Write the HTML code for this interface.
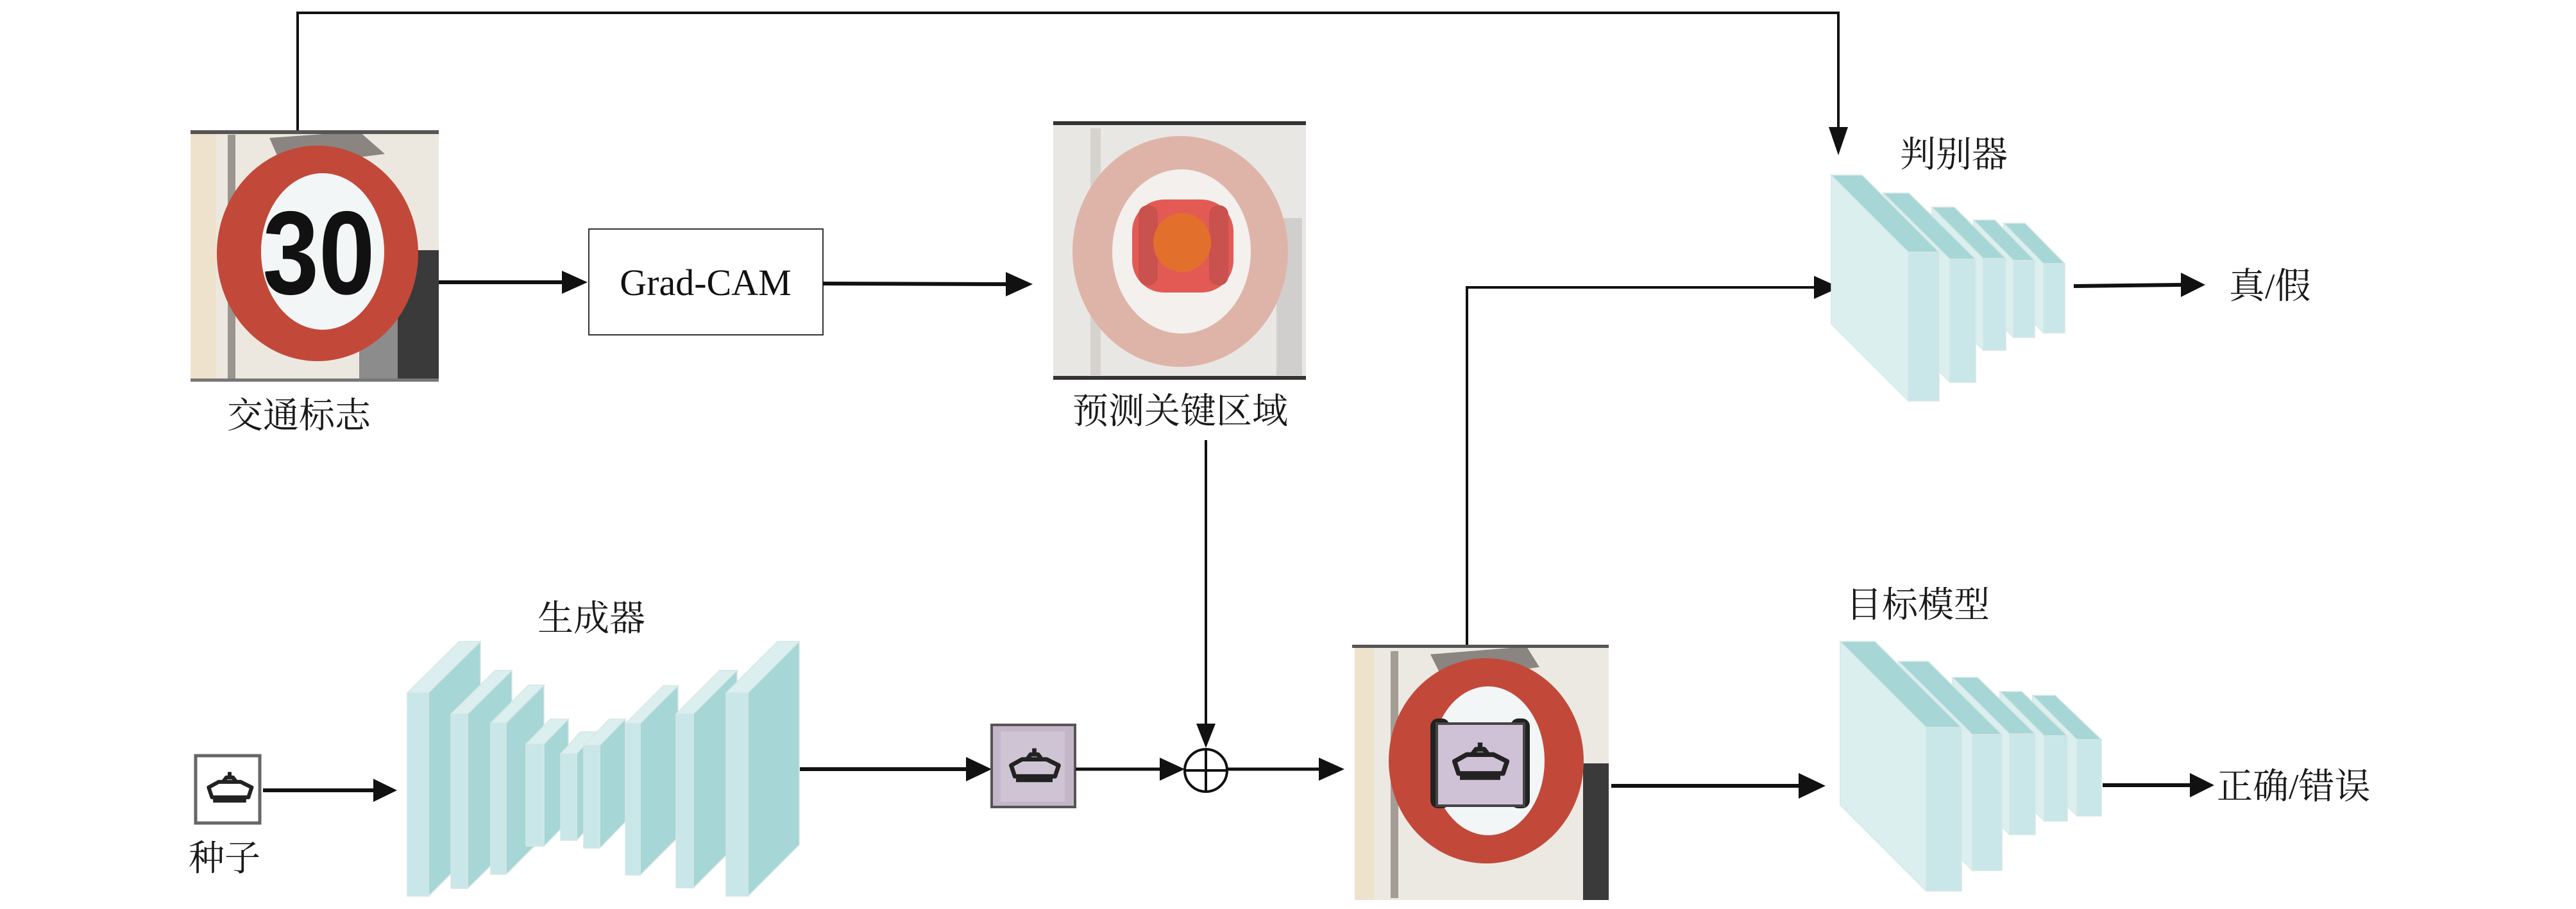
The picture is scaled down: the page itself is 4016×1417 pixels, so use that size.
<!DOCTYPE html>
<html><head><meta charset="utf-8"><style>
html,body{margin:0;padding:0;background:#fff}
svg{display:block}
.cn{font-family:"Liberation Serif","Noto Serif CJK SC",serif;font-size:56px;fill:#1a1a1a}
</style></head><body>
<svg width="4016" height="1417" viewBox="0 0 4016 1417" xmlns="http://www.w3.org/2000/svg">
<defs>
<symbol id="boat" viewBox="0 0 100 70">
<path d="M50 4 L50 14 M38 22 L44 14 L56 14 L62 22 M12 32 L30 22 L70 22 L90 32 L84 50 L18 50 Z M20 56 L80 56" fill="none" stroke="#222" stroke-width="7" stroke-linejoin="round"/>
</symbol>
</defs>

<polyline points="464,205 464,20 2866,20 2866,205" fill="none" stroke="#111" stroke-width="4"/>
<polygon points="2851,198 2881,198 2866,242" fill="#111"/>

<g>
<rect x="297" y="205" width="387" height="389" fill="#ece8e0"/>
<rect x="297" y="205" width="40" height="389" fill="#efe2cc"/>
<rect x="355" y="210" width="12" height="384" fill="#9a958e"/>
<rect x="610" y="390" width="74" height="204" fill="#3a3a3a"/>
<rect x="560" y="480" width="60" height="114" fill="#8c8c8c"/>
<polygon points="420,215 560,205 600,240 440,260" fill="#8a8580"/>
<ellipse cx="495" cy="395" rx="157" ry="168" fill="#c2493a"/>
<ellipse cx="503" cy="392" rx="96" ry="122" fill="#f2f6f6"/>
<text x="497" y="458" text-anchor="middle" font-family="Liberation Sans,sans-serif" font-weight="bold" font-size="185" fill="#111" transform="translate(497 0) scale(0.85 1) translate(-497 0)">30</text>
<rect x="297" y="203" width="387" height="6" fill="#555"/>
<rect x="297" y="590" width="387" height="5" fill="#777"/>
</g>
<text class="cn" x="466" y="667" text-anchor="middle">交通标志</text>

<line x1="684" y1="440" x2="880" y2="440" stroke="#111" stroke-width="6"/>
<polygon points="876,422 916,440 876,458" fill="#111"/>
<rect x="918" y="357" width="365" height="165" fill="#fff" stroke="#333" stroke-width="2"/>
<text x="1100" y="460" text-anchor="middle" font-family="Liberation Serif,serif" font-size="58" fill="#111">Grad-CAM</text>
<line x1="1283" y1="442" x2="1572" y2="443" stroke="#111" stroke-width="6"/>
<polygon points="1568,424 1610,443 1568,462" fill="#111"/>

<g>
<rect x="1642" y="192" width="394" height="397" fill="#e9e7e4"/>
<rect x="1700" y="200" width="16" height="385" fill="#d6d3cf"/>
<rect x="1990" y="340" width="40" height="245" fill="#d0cfcd"/>
<ellipse cx="1840" cy="392" rx="168" ry="180" fill="#dfb4a8"/>
<ellipse cx="1842" cy="392" rx="108" ry="128" fill="#f3f0ee"/>
<rect x="1765" y="311" width="158" height="145" rx="50" fill="#e35a55"/>
<rect x="1775" y="320" width="30" height="125" rx="14" fill="#c9514e"/>
<rect x="1885" y="320" width="30" height="125" rx="14" fill="#c9514e"/>
<ellipse cx="1843" cy="378" rx="45" ry="46" fill="#e2702c"/>
<rect x="1642" y="189" width="394" height="6" fill="#333"/>
<rect x="1642" y="586" width="394" height="6" fill="#333"/>
</g>
<text class="cn" x="1840" y="660" text-anchor="middle">预测关键区域</text>

<line x1="1880" y1="686" x2="1880" y2="1140" stroke="#111" stroke-width="4"/>
<polygon points="1865,1128 1895,1128 1880,1166" fill="#111"/>
<circle cx="1880" cy="1201" r="33" fill="#fff" stroke="#111" stroke-width="4"/>
<line x1="1847" y1="1201" x2="1913" y2="1201" stroke="#111" stroke-width="4"/>
<line x1="1880" y1="1168" x2="1880" y2="1234" stroke="#111" stroke-width="4"/>

<rect x="305" y="1178" width="100" height="105" fill="#fff" stroke="#666" stroke-width="5"/>
<use href="#boat" x="315" y="1195" width="86" height="70"/>
<text class="cn" x="350" y="1357" text-anchor="middle">种子</text>
<line x1="410" y1="1232" x2="585" y2="1232" stroke="#111" stroke-width="6"/>
<polygon points="582,1214 619,1232 582,1250" fill="#111"/>

<text class="cn" x="922" y="983" text-anchor="middle">生成器</text>
<g stroke="#d6e6e6" stroke-width="1.5">
<polygon points="668,1080 749,1000 749,1316 668,1397" fill="#a6d6d6"/><polygon points="635,1080 716,1000 749,1000 668,1080" fill="#dcefef"/><rect x="635" y="1080" width="33" height="317" fill="#c9e6e8"/>
<polygon points="729,1113 798,1045 798,1317 729,1385" fill="#a6d6d6"/><polygon points="703,1113 772,1045 798,1045 729,1113" fill="#dcefef"/><rect x="703" y="1113" width="26" height="272" fill="#c9e6e8"/>
<polygon points="789,1127 848,1068 848,1304 789,1363" fill="#a6d6d6"/><polygon points="765,1127 824,1068 848,1068 789,1127" fill="#dcefef"/><rect x="765" y="1127" width="24" height="236" fill="#c9e6e8"/>
<polygon points="848,1160 886,1121 886,1280 848,1319" fill="#a6d6d6"/><polygon points="820,1160 858,1121 886,1121 848,1160" fill="#dcefef"/><rect x="820" y="1160" width="28" height="159" fill="#c9e6e8"/>
<polygon points="899,1175 930,1141 930,1276 899,1310" fill="#a6d6d6"/><polygon points="874,1175 905,1141 930,1141 899,1175" fill="#dcefef"/><rect x="874" y="1175" width="25" height="135" fill="#c9e6e8"/>
<polygon points="935,1162 975,1121 975,1281 935,1322" fill="#a6d6d6"/><polygon points="910,1162 950,1121 975,1121 935,1162" fill="#dcefef"/><rect x="910" y="1162" width="25" height="160" fill="#c9e6e8"/>
<polygon points="998,1128 1057,1069 1057,1305 998,1364" fill="#a6d6d6"/><polygon points="975,1128 1034,1069 1057,1069 998,1128" fill="#dcefef"/><rect x="975" y="1128" width="23" height="236" fill="#c9e6e8"/>
<polygon points="1081,1113 1149,1045 1149,1316 1081,1384" fill="#a6d6d6"/><polygon points="1054,1113 1122,1045 1149,1045 1081,1113" fill="#dcefef"/><rect x="1054" y="1113" width="27" height="271" fill="#c9e6e8"/>
<polygon points="1166,1080 1246,1000 1246,1317 1166,1397" fill="#a6d6d6"/><polygon points="1132,1080 1212,1000 1246,1000 1166,1080" fill="#dcefef"/><rect x="1132" y="1080" width="34" height="317" fill="#c9e6e8"/>
</g>
<line x1="1247" y1="1199" x2="1510" y2="1199" stroke="#111" stroke-width="6"/>
<polygon points="1506,1180 1546,1199 1506,1218" fill="#111"/>

<rect x="1546" y="1130" width="130" height="128" fill="#c4b6c8" stroke="#555" stroke-width="4"/>
<rect x="1560" y="1140" width="100" height="110" fill="#cfc4d4"/>
<use href="#boat" x="1565" y="1160" width="95" height="72"/>
<line x1="1677" y1="1199" x2="1812" y2="1199" stroke="#111" stroke-width="5"/>
<polygon points="1808,1181 1847,1199 1808,1217" fill="#111"/>
<line x1="1913" y1="1199" x2="2060" y2="1199" stroke="#111" stroke-width="5"/>
<polygon points="2056,1181 2096,1199 2056,1217" fill="#111"/>

<g>
<rect x="2112" y="1008" width="396" height="395" fill="#ece9e2"/>
<rect x="2112" y="1008" width="30" height="395" fill="#efe2cc"/>
<rect x="2168" y="1015" width="12" height="385" fill="#a39d95"/>
<rect x="2468" y="1190" width="40" height="213" fill="#3a3a3a"/>
<polygon points="2230,1020 2380,1008 2400,1040 2250,1060" fill="#8a8580"/>
<ellipse cx="2317" cy="1186" rx="152" ry="160" fill="#c2493a"/>
<ellipse cx="2320" cy="1186" rx="88" ry="116" fill="#f2f6f6"/>
<rect x="2230" y="1120" width="30" height="140" rx="12" fill="#222"/>
<rect x="2355" y="1120" width="30" height="140" rx="12" fill="#222"/>
<rect x="2240" y="1128" width="136" height="128" fill="#cfc2d6" stroke="#444" stroke-width="4"/>
<use href="#boat" x="2255" y="1150" width="105" height="80"/>
<rect x="2108" y="1005" width="400" height="5" fill="#555"/>
</g>
<polyline points="2287,1005 2287,448 2830,448" fill="none" stroke="#111" stroke-width="4"/>
<polygon points="2828,430 2868,448 2828,466" fill="#111"/>
<line x1="2512" y1="1225" x2="2808" y2="1225" stroke="#111" stroke-width="6"/>
<polygon points="2804,1205 2846,1225 2804,1245" fill="#111"/>

<text class="cn" x="3046" y="260" text-anchor="middle">判别器</text>
<g stroke="#d6e6e6" stroke-width="1.5">
<polygon points="3124,348 3186,411 3186,519 3124,456" fill="#dcefef"/><polygon points="3124,348 3157,348 3219,411 3186,411" fill="#a6d6d6"/><rect x="3186" y="411" width="33" height="108" fill="#c9e6e8"/>
<polygon points="3077,343 3139,406 3139,526 3077,463" fill="#dcefef"/><polygon points="3077,343 3110,343 3172,406 3139,406" fill="#a6d6d6"/><rect x="3139" y="406" width="33" height="120" fill="#c9e6e8"/>
<polygon points="3012,323 3092,403 3092,546 3012,466" fill="#dcefef"/><polygon points="3012,323 3047,323 3127,403 3092,403" fill="#a6d6d6"/><rect x="3092" y="403" width="35" height="143" fill="#c9e6e8"/>
<polygon points="2936,301 3040,404 3040,596 2936,493" fill="#dcefef"/><polygon points="2936,301 2976,301 3080,404 3040,404" fill="#a6d6d6"/><rect x="3040" y="404" width="40" height="192" fill="#c9e6e8"/>
<polygon points="2855,273 2975,393 2975,625 2855,505" fill="#dcefef"/><polygon points="2855,273 2903,273 3023,393 2975,393" fill="#a6d6d6"/><rect x="2975" y="393" width="48" height="232" fill="#c9e6e8"/>
</g>
<line x1="3233" y1="446" x2="3400" y2="444" stroke="#111" stroke-width="6"/>
<polygon points="3400,425 3438,444 3400,463" fill="#111"/>
<text class="cn" x="3475" y="465">真/假</text>

<text class="cn" x="2990" y="962" text-anchor="middle">目标模型</text>
<g stroke="#d6e6e6" stroke-width="1.5">
<polygon points="3169,1084 3238,1153 3238,1272 3169,1203" fill="#dcefef"/><polygon points="3169,1084 3204,1084 3276,1153 3238,1153" fill="#a6d6d6"/><rect x="3238" y="1153" width="38" height="119" fill="#c9e6e8"/>
<polygon points="3118,1078 3187,1147 3187,1280 3118,1211" fill="#dcefef"/><polygon points="3118,1078 3152,1078 3223,1147 3187,1147" fill="#a6d6d6"/><rect x="3187" y="1147" width="36" height="133" fill="#c9e6e8"/>
<polygon points="3044,1056 3133,1144 3133,1301 3044,1213" fill="#dcefef"/><polygon points="3044,1056 3083,1056 3173,1144 3133,1144" fill="#a6d6d6"/><rect x="3133" y="1144" width="40" height="157" fill="#c9e6e8"/>
<polygon points="2960,1031 3075,1145 3075,1357 2960,1243" fill="#dcefef"/><polygon points="2960,1031 3006,1031 3121,1145 3075,1145" fill="#a6d6d6"/><rect x="3075" y="1145" width="46" height="212" fill="#c9e6e8"/>
<polygon points="2869,1000 3003,1134 3003,1389 2869,1255" fill="#dcefef"/><polygon points="2869,1000 2923,1000 3058,1134 3003,1134" fill="#a6d6d6"/><rect x="3003" y="1134" width="55" height="255" fill="#c9e6e8"/>
</g>
<line x1="3278" y1="1224" x2="3418" y2="1224" stroke="#111" stroke-width="6"/>
<polygon points="3414,1205 3452,1224 3414,1243" fill="#111"/>
<text class="cn" x="3456" y="1245">正确/错误</text>
</svg>
</body></html>
